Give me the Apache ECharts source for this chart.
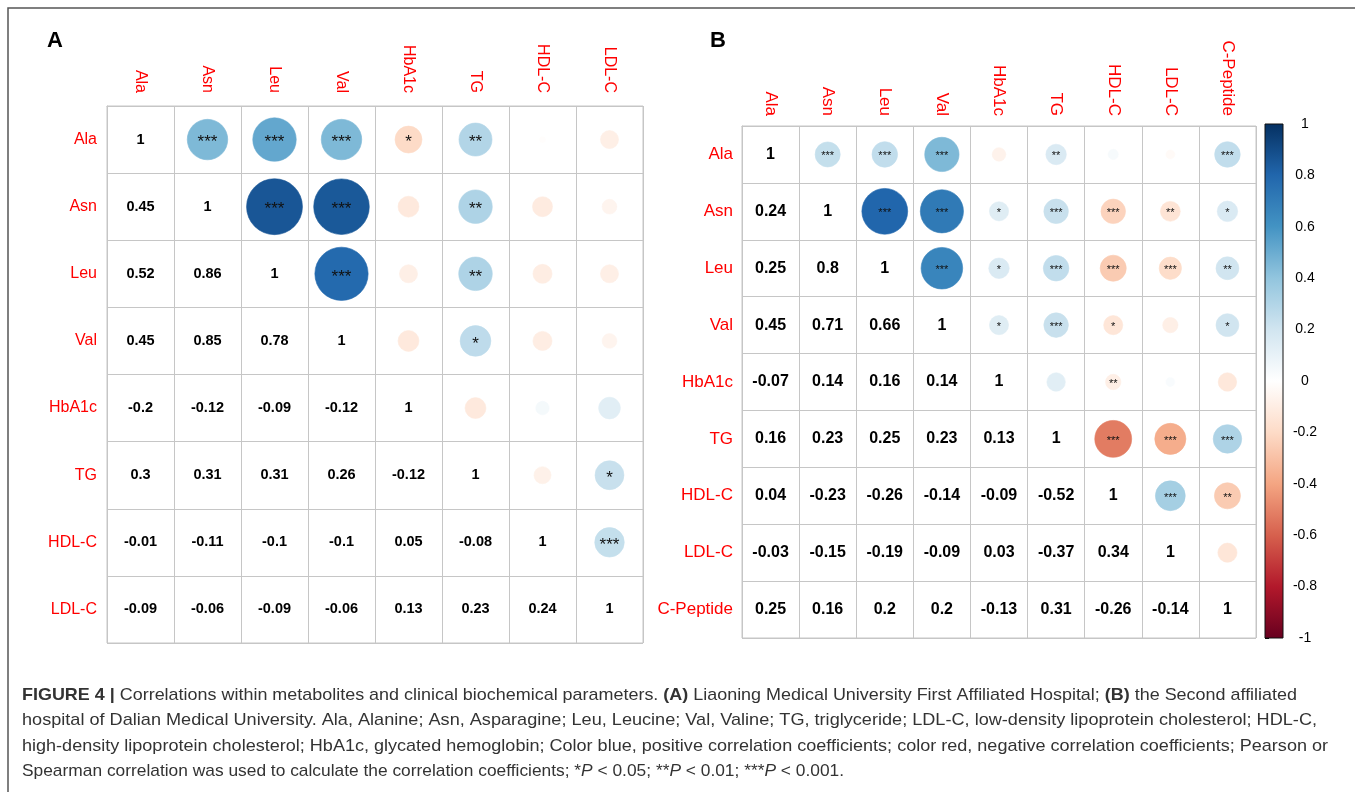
<!DOCTYPE html>
<html><head><meta charset="utf-8">
<script src="https://cdn.jsdelivr.net/npm/echarts@6/dist/echarts.min.js"></script>
<style>html,body{margin:0;padding:0;background:#fff}#c{width:1355px;height:792px}</style>
</head><body><div id="c"></div>
<script>
// ---------- DATA ----------
const varsA = ['Ala','Asn','Leu','Val','HbA1c','TG','HDL-C','LDL-C'];
// lower triangle (row i, columns 0..i)
const corrA = [
  [1],
  [0.45, 1],
  [0.52, 0.86, 1],
  [0.45, 0.85, 0.78, 1],
  [-0.2, -0.12, -0.09, -0.12, 1],
  [0.3, 0.31, 0.31, 0.26, -0.12, 1],
  [-0.01, -0.11, -0.1, -0.1, 0.05, -0.08, 1],
  [-0.09, -0.06, -0.09, -0.06, 0.13, 0.23, 0.24, 1]
];
// significance marks, upper triangle (row i, columns i+1..n-1)
const starsA = [
  ['***','***','***','*','**','',''],
  ['***','***','','**','',''],
  ['***','','**','',''],
  ['','*','',''],
  ['','',''],
  ['','*'],
  ['***']
];

const varsB = ['Ala','Asn','Leu','Val','HbA1c','TG','HDL-C','LDL-C','C-Peptide'];
const corrB = [
  [1],
  [0.24, 1],
  [0.25, 0.8, 1],
  [0.45, 0.71, 0.66, 1],
  [-0.07, 0.14, 0.16, 0.14, 1],
  [0.16, 0.23, 0.25, 0.23, 0.13, 1],
  [0.04, -0.23, -0.26, -0.14, -0.09, -0.52, 1],
  [-0.03, -0.15, -0.19, -0.09, 0.03, -0.37, 0.34, 1],
  [0.25, 0.16, 0.2, 0.2, -0.13, 0.31, -0.26, -0.14, 1]
];
const starsB = [
  ['***','***','***','','**','','','***'],
  ['***','***','*','***','***','**','*'],
  ['***','*','***','***','***','**'],
  ['*','***','*','','*'],
  ['','**','',''],
  ['***','***','***'],
  ['***','**'],
  ['']
];

const colorbarRange = [-1, 1];
const colorbarTicks = 0.2;
const palette = ['#67001F','#B2182B','#D6604D','#F4A582','#FDDBC7','#FFFFFF','#D1E5F0','#92C5DE','#4393C3','#2166AC','#053061'];

// ---------- BUILD ----------
const FONT = "'Liberation Sans', Arial, Helvetica, sans-serif";
const RED = '#ff0000';
const GRIDC = '#c6c6c6';

function buildCells(corr, stars) {
  const n = corr.length;
  const circles = [], numbers = [], marks = [];
  for (let i = 0; i < n; i++) {
    for (let j = 0; j < n; j++) {
      if (j <= i) {
        numbers.push([j, i, corr[i][j]]);
      } else {
        circles.push([j, i, corr[j][i]]);
        marks.push(stars[i][j - i - 1]);
      }
    }
  }
  return {circles, numbers, marks};
}
const cellsA = buildCells(corrA, starsA);
const cellsB = buildCells(corrB, starsB);

function circleRender(marks, fs, dy) {
  return function (params, api) {
    const c = api.coord([api.value(0), api.value(1)]);
    const s = api.size([1, 1]);
    const r = Math.sqrt(Math.abs(api.value(2))) * 0.45 * Math.min(s[0], s[1]);
    const col = api.visual('color');
    const children = [{
      type: 'circle', shape: {cx: c[0], cy: c[1], r: r},
      style: {fill: col, stroke: col, lineWidth: 0.6}
    }];
    const m = marks[params.dataIndex];
    if (m) children.push({
      type: 'text',
      style: {text: m, x: c[0], y: c[1] + dy, align: 'center', verticalAlign: 'middle',
        fontSize: fs, fontFamily: FONT, fill: '#111'}
    });
    return {type: 'group', children: children};
  };
}
function numberRender(fs) {
  return function (params, api) {
    const c = api.coord([api.value(0), api.value(1)]);
    return {type: 'text', style: {text: String(api.value(2)), x: c[0], y: c[1],
      align: 'center', verticalAlign: 'middle', fontSize: fs, fontWeight: 'bold',
      fontFamily: FONT, fill: '#000'}};
  };
}

function catX(idx, vars, fs, margin) {
  return {type: 'category', gridIndex: idx, position: 'top', data: vars,
    axisLabel: {rotate: 90, color: RED, fontSize: fs, fontFamily: FONT, margin: margin, interval: 0},
    axisTick: {show: false}, axisLine: {show: true, lineStyle: {color: GRIDC, width: 1}},
    splitLine: {show: true, interval: 0, lineStyle: {color: GRIDC, width: 1}}};
}
function catY(idx, vars, fs, margin) {
  return {type: 'category', gridIndex: idx, inverse: true, data: vars,
    axisLabel: {color: RED, fontSize: fs, fontFamily: FONT, margin: margin, interval: 0},
    axisTick: {show: false}, axisLine: {show: true, lineStyle: {color: GRIDC, width: 1}},
    splitLine: {show: true, interval: 0, lineStyle: {color: GRIDC, width: 1}}};
}

// caption
const capLines = [
  [['FIGURE 4 |', 'b'], [' Correlations within metabolites and clinical biochemical parameters. ', ''], ['(A)', 'b'], [' Liaoning Medical University First Affiliated Hospital; ', ''], ['(B)', 'b'], [' the Second affiliated', '']],
  [['hospital of Dalian Medical University. Ala, Alanine; Asn, Asparagine; Leu, Leucine; Val, Valine; TG, triglyceride; LDL-C, low-density lipoprotein cholesterol; HDL-C,', '']],
  [['high-density lipoprotein cholesterol; HbA1c, glycated hemoglobin; Color blue, positive correlation coefficients; color red, negative correlation coefficients; Pearson or', '']],
  [['Spearman correlation was used to calculate the correlation coefficients; *', ''], ['P', 'i'], [' < 0.05; **', ''], ['P', 'i'], [' < 0.01; ***', ''], ['P', 'i'], [' < 0.001.', '']]
];
const capWidths = [1275, 1295, 1306, 822];
const CAP_FS = 17;
const ctx = document.createElement('canvas').getContext('2d');
function measureLine(segs) {
  let w = 0;
  segs.forEach(s => {
    ctx.font = (s[1] === 'b' ? 'bold ' : s[1] === 'i' ? 'italic ' : '') + CAP_FS + 'px ' + FONT;
    w += ctx.measureText(s[0]).width;
  });
  return w;
}
const capGraphics = capLines.map((segs, k) => ({
  type: 'text', x: 22, y: 695 + k * 25.5, scaleX: capWidths[k] / measureLine(segs), originX: 0, originY: 0,
  style: {
    text: segs.map(s => s[1] ? '{' + s[1] + '|' + s[0] + '}' : s[0]).join(''),
    x: 0, y: 0, verticalAlign: 'middle', align: 'left',
    fontSize: CAP_FS, fontFamily: FONT, fill: '#333',
    rich: {b: {fontWeight: 'bold', fontSize: CAP_FS, fontFamily: FONT, fill: '#333'},
           i: {fontStyle: 'italic', fontSize: CAP_FS, fontFamily: FONT, fill: '#333'}}
  }
}));

const chart = echarts.init(document.getElementById('c'), null, {renderer: 'canvas'});
chart.setOption({
  backgroundColor: '#fff',
  animation: false,
  grid: [
    {left: 107, top: 106, width: 536, height: 537, show: true, borderColor: GRIDC, borderWidth: 1},
    {left: 742, top: 126, width: 514, height: 512, show: true, borderColor: GRIDC, borderWidth: 1},
    {left: 1265, top: 124, width: 18, height: 514, show: false}
  ],
  xAxis: [
    catX(0, varsA, 16, 13),
    catX(1, varsB, 17, 10),
    {type: 'value', gridIndex: 2, min: 0, max: 1, show: false}
  ],
  yAxis: [
    catY(0, varsA, 16, 10),
    catY(1, varsB, 17, 9),
    {type: 'value', gridIndex: 2, position: 'right', min: colorbarRange[0], max: colorbarRange[1], interval: colorbarTicks,
      axisLine: {show: false}, splitLine: {show: false},
      axisTick: {show: true, length: 4, inside: false, lineStyle: {color: '#000', width: 1}},
      axisLabel: {color: '#000', fontSize: 14, fontFamily: FONT, margin: 22, align: 'center', padding: [6, 0, 0, 0]}}
  ],
  visualMap: {
    type: 'continuous', show: false, min: -1, max: 1, dimension: 2, seriesIndex: [0, 2],
    inRange: {color: palette}
  },
  series: [
    {type: 'custom', xAxisIndex: 0, yAxisIndex: 0, data: cellsA.circles, renderItem: circleRender(cellsA.marks, 17, 3)},
    {type: 'custom', xAxisIndex: 0, yAxisIndex: 0, data: cellsA.numbers, renderItem: numberRender(14.5)},
    {type: 'custom', xAxisIndex: 1, yAxisIndex: 1, data: cellsB.circles, renderItem: circleRender(cellsB.marks, 11, 2)},
    {type: 'custom', xAxisIndex: 1, yAxisIndex: 1, data: cellsB.numbers, renderItem: numberRender(16)},
    {type: 'custom', xAxisIndex: 2, yAxisIndex: 2, data: [[0, colorbarRange[0]], [1, colorbarRange[1]]],
      renderItem: function (params, api) {
        if (params.dataIndex !== 0) return null;
        const p0 = api.coord([0, colorbarRange[1]]);
        const p1 = api.coord([1, colorbarRange[0]]);
        const stops = palette.slice().reverse().map((c, k) => ({offset: k / (palette.length - 1), color: c}));
        return {type: 'rect', shape: {x: p0[0], y: p0[1], width: p1[0] - p0[0], height: p1[1] - p0[1]},
          style: {fill: new echarts.graphic.LinearGradient(0, 0, 0, 1, stops), stroke: '#111', lineWidth: 1}};
      }}
  ],
  graphic: [
    {type: 'polyline', shape: {points: [[8, 800], [8, 8], [1360, 8]]}, style: {stroke: '#555', lineWidth: 1.5, fill: null}},
    {type: 'text', x: 55, y: 41, style: {text: 'A', align: 'center', verticalAlign: 'middle', fontSize: 22, fontWeight: 'bold', fontFamily: FONT, fill: '#000'}},
    {type: 'text', x: 718, y: 41, style: {text: 'B', align: 'center', verticalAlign: 'middle', fontSize: 22, fontWeight: 'bold', fontFamily: FONT, fill: '#000'}}
  ].concat(capGraphics)
});
</script>
</body></html>
